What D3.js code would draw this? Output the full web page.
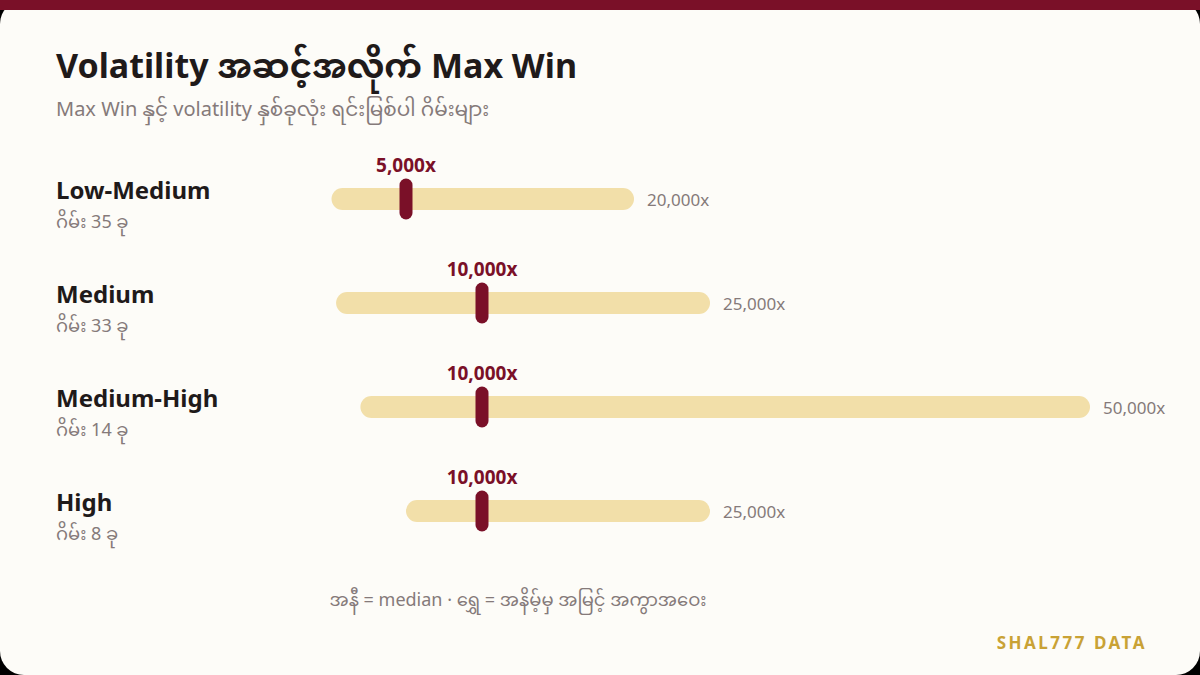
<!DOCTYPE html>
<html>
<head>
<meta charset="utf-8">
<script src="https://cdn.jsdelivr.net/npm/d3@7"></script>
<style>
  html, body { margin: 0; padding: 0; background: #000; }
  svg { display: block; font-family: "Noto Sans", "Noto Sans Myanmar", "Open Sans", sans-serif; }
</style>
</head>
<body>
<svg id="chart" width="1200" height="675"></svg>
<script>
// ---- data ----
const categories = ['Low-Medium', 'Medium', 'Medium-High', 'High'];
const gameCounts = [35, 33, 14, 8];
const minWins = [100, 400, 2000, 5000];
const medianWins = [5000, 10000, 10000, 10000];
const maxWins = [20000, 25000, 50000, 25000];

const W = 1200, H = 675;
const svg = d3.select('#chart');
const fmt = d3.format(',');

// card
svg.append('rect').attr('width', W).attr('height', H).attr('rx', 24).attr('fill', '#fdfcf8');
svg.append('rect').attr('width', W).attr('height', 10).attr('fill', '#7a1028');

// header
svg.append('text').attr('x', 56).attr('y', 78)
  .attr('font-size', 34).attr('font-weight', 700).attr('fill', '#1f1a1a')
  .text('Volatility အဆင့်အလိုက် Max Win');
svg.append('text').attr('x', 56).attr('y', 116)
  .attr('font-size', 20).attr('fill', '#857a7a')
  .text('Max Win နှင့် volatility နှစ်ခုလုံး ရင်းမြစ်ပါ ဂိမ်းများ');

// scales
const x = d3.scaleLinear().domain([0, 50000]).range([330, 1090]);
const y = d3.scaleBand().domain(categories).range([147, 563]).padding(0);

const rows = svg.append('g').selectAll('g')
  .data(categories)
  .join('g')
  .attr('transform', d => `translate(0, ${y(d) + y.bandwidth() / 2})`);

// labels
rows.append('text').attr('x', 56).attr('y', 0)
  .attr('font-size', 24).attr('font-weight', 700).attr('fill', '#1f1a1a')
  .text(d => d);
rows.append('text').attr('x', 56).attr('y', 29)
  .attr('font-size', 18).attr('fill', '#857a7a')
  .text((d, i) => `ဂိမ်း ${gameCounts[i]} ခု`);

// range bars
const barH = 22;
rows.append('rect')
  .attr('x', (d, i) => x(minWins[i]))
  .attr('y', -barH / 2)
  .attr('width', (d, i) => x(maxWins[i]) - x(minWins[i]))
  .attr('height', barH)
  .attr('rx', barH / 2)
  .attr('fill', '#f2dfa9');

// max label
rows.append('text')
  .attr('x', (d, i) => x(maxWins[i]) + 13)
  .attr('y', 1)
  .attr('dy', '0.35em')
  .attr('font-size', 17).attr('fill', '#857a7a')
  .text((d, i) => fmt(maxWins[i]) + 'x');

// median marker
const mW = 13, mH = 41;
rows.append('rect')
  .attr('x', (d, i) => x(medianWins[i]) - mW / 2)
  .attr('y', -mH / 2)
  .attr('width', mW)
  .attr('height', mH)
  .attr('rx', mW / 2)
  .attr('fill', '#7a1028');
rows.append('text')
  .attr('x', (d, i) => x(medianWins[i]))
  .attr('y', -27)
  .attr('text-anchor', 'middle')
  .attr('font-size', 19).attr('font-weight', 700).attr('fill', '#7a1028')
  .text((d, i) => fmt(medianWins[i]) + 'x');

// footnote
svg.append('text').attr('x', 518).attr('y', 606)
  .attr('text-anchor', 'middle')
  .attr('font-size', 18).attr('fill', '#857a7a')
  .text('အနီ = median · ရွှေ = အနိမ့်မှ အမြင့် အကွာအဝေး');

svg.append('text').attr('x', 1147).attr('y', 649)
  .attr('text-anchor', 'end')
  .attr('font-size', 17).attr('font-weight', 700).attr('fill', '#c9a235')
  .attr('letter-spacing', 2.5)
  .text('SHAL777 DATA');
</script>
</body>
</html>
